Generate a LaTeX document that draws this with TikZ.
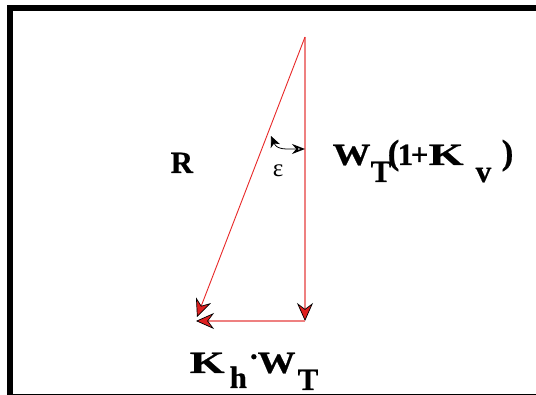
\documentclass[tikz,border=0pt]{standalone}
\usepackage{fontspec}
\setmainfont{Liberation Serif}
\newfontfamily\labfont{Liberation Serif}[FakeBold=0.6]
\newfontfamily\wfont{Liberation Serif}[FakeStretch=1.22,FakeBold=0.6]
\newfontfamily\kfont{Liberation Serif}[FakeStretch=1.45,FakeBold=0.6]
\usetikzlibrary{arrows.meta}
\definecolor{vecred}{RGB}{232,40,40}
\definecolor{vecpink}{RGB}{238,128,128}
\definecolor{headred}{RGB}{222,32,32}
\tikzset{
  bighead/.tip={Stealth[length=18pt,width=16pt,inset=6pt,fill=headred,color=black,line width=0.7pt]},
  veclabel/.style={inner sep=0pt,anchor=base west,font=\labfont\bfseries\fontsize{31}{31}\selectfont},
}
\newcommand{\gl}[2]{\makebox[#1][l]{#2}}
\newcommand{\Wg}{{\wfont\bfseries W}}
\newcommand{\Kg}{{\kfont\bfseries K}}
\newcommand{\bigpar}[1]{{\fontsize{35}{35}\selectfont\raisebox{1pt}{#1}}}
\begin{document}
\begin{tikzpicture}[x=1pt,y=-1pt]
\useasboundingbox (0,0) rectangle (536,395);
\clip (0,0) rectangle (536,395);
\fill[white] (0,0) rectangle (536,395);
\draw[line width=6pt] (10,8) rectangle (545,397);
% vertices
\coordinate (top) at (305,37);
\coordinate (corner) at (305,321);
\coordinate (left) at (196,321);
\coordinate (diagtip) at (197,317);
% vectors
\draw[vecpink,line width=1.4pt,-{bighead}] (top) -- (corner);
\draw[vecpink,line width=1.4pt,-{bighead}] (corner) -- (left);
\draw[vecred,line width=0.9pt,-{bighead}] (top) -- (diagtip);
% angle epsilon
\coordinate (angA) at (271,136);
\coordinate (angB) at (305,149);
\draw[line width=0.8pt,{Stealth[length=11pt,width=10pt,inset=3pt]}-{Stealth[open,length=13pt,width=10pt,line width=1.6pt]}]
  (angA) .. controls (277,150) and (286,149) .. (angB);
\node[inner sep=0pt,anchor=base,font=\fontsize{25}{25}\selectfont] (eps) at (278,177) {ε};
% labels
\node[veclabel] (R) at (170.5,173) {R};
\node[veclabel] (WT) at (332.5,165) {\gl{38pt}{\Wg}\gl{17pt}{\raisebox{-17pt}{T}}\gl{10pt}{\bigpar{(}}\gl{13pt}{1}\gl{18pt}{+}\gl{47pt}{\Kg}\gl{26pt}{\raisebox{-17pt}{v}}\gl{12pt}{\bigpar{)}}};
\node[veclabel] (KW) at (189.5,373) {\gl{40pt}{\Kg}\gl{19pt}{\raisebox{-15pt}{h}}\gl{9pt}{\raisebox{6pt}{·}}\gl{40pt}{\Wg}\gl{20pt}{\raisebox{-17pt}{T}}};
\end{tikzpicture}
\end{document}
